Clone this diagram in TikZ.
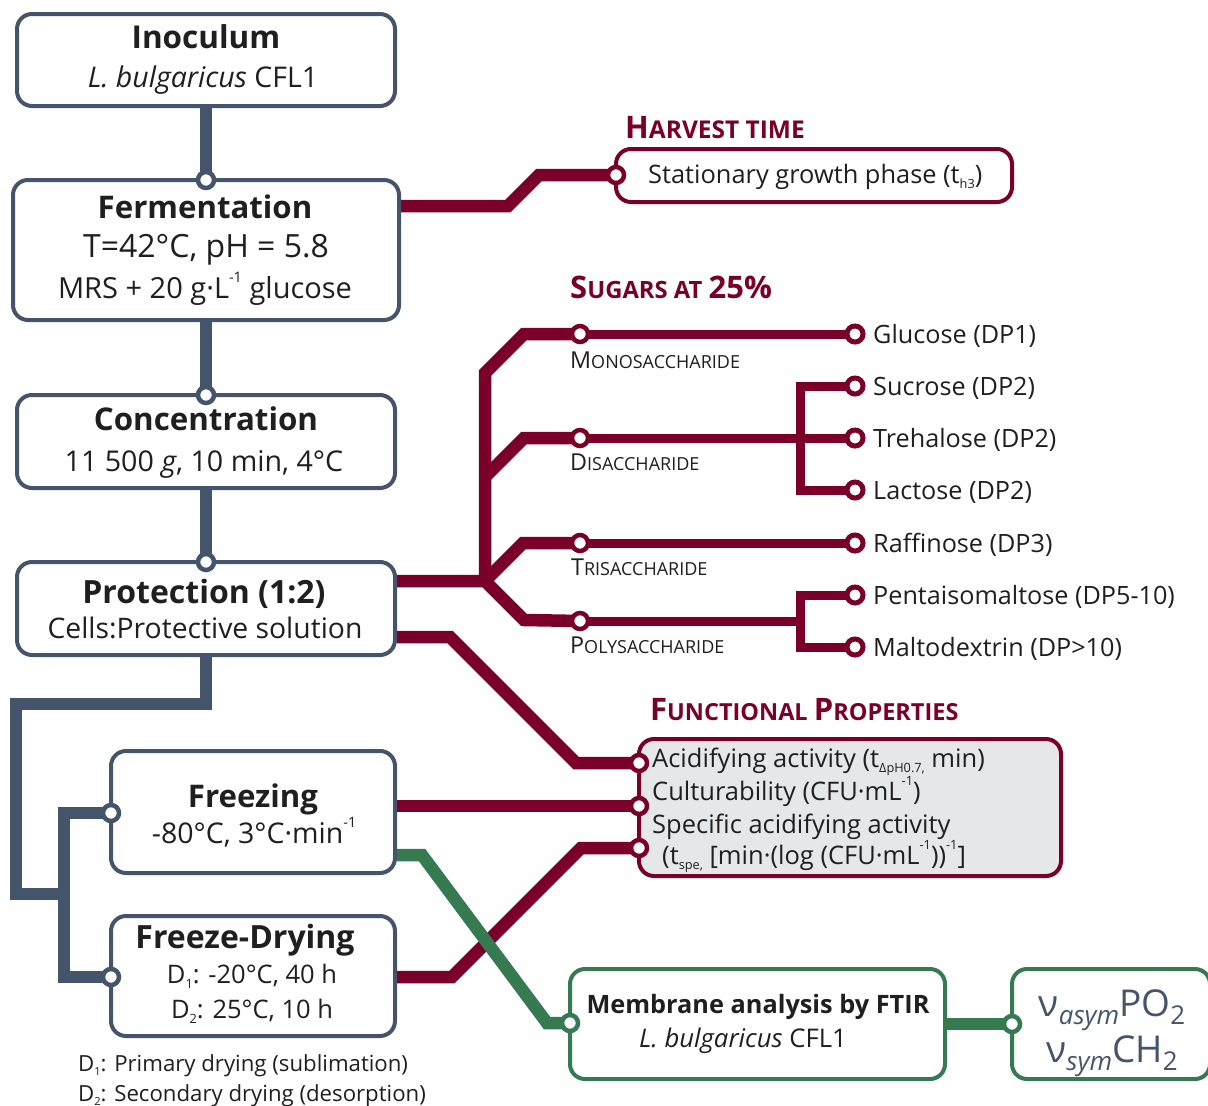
\documentclass[tikz,border=0pt]{standalone}
\usepackage{fontspec}
\setmainfont{Open Sans}
\usetikzlibrary{calc}
\pgfdeclarelayer{bg}
\pgfsetlayers{bg,main}
\definecolor{slate}{HTML}{44546A}
\definecolor{wine}{HTML}{7A0029}
\definecolor{fir}{HTML}{357A50}
\definecolor{panel}{HTML}{E6E7E9}
\definecolor{ink}{HTML}{1F1F1F}
% font size helper (sizes are given in pt = px)
\newcommand\fs[1]{\fontsize{#1}{#1}\selectfont}
\newcommand\shrink[2]{{\fontsize{#1}{#1}\selectfont #2}}
% tiny raised / lowered indices
\newcommand\up[1]{\raisebox{0.55em}{\scalebox{0.5}{#1}}}
\newcommand\dn[1]{\raisebox{-0.2em}{\scalebox{0.5}{#1}}}
\newcommand\vsub[1]{\raisebox{-0.22em}{\scalebox{0.7}{#1}}}
\begin{document}
\begin{tikzpicture}[x=1pt,y=-1pt,
  stage/.style={draw=slate, line width=4pt, rounded corners=15pt, fill=white, inner sep=0pt},
  winebox/.style={stage, draw=wine},
  panelbox/.style={stage, draw=wine, fill=panel},
  firbox/.style={stage, draw=fir},
  slateline/.style={draw=slate, line width=12.5pt},
  wineline/.style={draw=wine, line width=12.5pt},
  winethin/.style={draw=wine, line width=9pt},
  firline/.style={draw=fir, line width=12.5pt},
  hub/.style={circle, fill=white, draw=#1, line width=4.5pt, minimum size=16pt, inner sep=0pt},
  leaf/.style={circle, fill=white, draw=wine, line width=5pt, minimum size=16pt, inner sep=0pt},
  lbl/.style={inner sep=0pt, anchor=base, text=ink},
  lbll/.style={lbl, anchor=base west},
  head/.style={inner sep=0pt, anchor=base west, text=wine, font={\fs{31}\bfseries}},
  kind/.style={inner sep=0pt, anchor=base west, text=ink, font={\fs{23.3}}}
]
\useasboundingbox (0,0) rectangle (1208,1106);
\begin{pgfonlayer}{bg}
  \fill[white] (0,0) rectangle (1208,1106);
\end{pgfonlayer}
\clip (0,0) rectangle (1208,1106);

% ---------- process stages ----------
\node[stage, minimum width=378pt, minimum height=92pt] (inoc) at (206,60) {};
\node[stage, minimum width=386pt, minimum height=140pt] (ferm) at (206,250) {};
\node[stage, minimum width=378pt, minimum height=93pt] (conc) at (206,441.5) {};
\node[stage, minimum width=378pt, minimum height=93pt] (prot) at (206,608.5) {};
\node[stage, minimum width=284pt, minimum height=122pt] (frz) at (253,812) {};
\node[stage, minimum width=284pt, minimum height=120pt] (fd) at (253,976) {};

\node[lbl, font={\fs{31.5}\bfseries}] (inoc-a) at (206,48) {Inoculum};
\node[lbl, font={\fs{28.5}}] (inoc-b) at (203,87) {\textit{L. bulgaricus} CFL1};
\node[lbl, font={\fs{31.2}\bfseries}] (ferm-a) at (205,218) {Fermentation};
\node[lbl, font={\fs{32}}] (ferm-b) at (206,257) {T=42°C, pH = 5.8};
\node[lbl, font={\fs{29}}] (ferm-c) at (205,298) {MRS + 20 g·L\up{-1} glucose};
\node[lbl, font={\fs{31.3}\bfseries}] (conc-a) at (206,430) {Concentration};
\node[lbl, font={\fs{28.6}}] (conc-b) at (204,471) {11 500 \textit{g}, 10 min, 4°C};
\node[lbl, font={\fs{32}\bfseries}] (prot-a) at (204,603) {Protection (1:2)};
\node[lbl, font={\fs{28.3}}] (prot-b) at (205,638) {Cells:Protective solution};
\node[lbl, font={\fs{31.2}\bfseries}] (frz-a) at (253,807) {Freezing};
\node[lbl, font={\fs{28.5}}] (frz-b) at (254,843) {-80°C, 3°C·min\up{-1}};
\node[lbl, font={\fs{32}\bfseries}] (fd-a) at (245,948) {Freeze-Drying};
\node[lbl, font={\fs{25.5}}] (fd-b) at (252,983) {D\dn{1}: -20°C, 40 h};
\node[lbl, font={\fs{25.5}}] (fd-c) at (252,1018) {D\dn{2}: 25°C, 10 h};
\node[lbll, font={\fs{22.2}}] (note1) at (78,1071) {D\dn{1}: Primary drying (sublimation)};
\node[lbll, font={\fs{22.2}}] (note2) at (78,1101) {D\dn{2}: Secondary drying (desorption)};

% ---------- harvest time ----------
\node[head] (harv-h) at (625,138) {H\shrink{24.5}{ARVEST TIME}};
\node[winebox, minimum width=396pt, minimum height=53pt] (harv) at (814,175.5) {};
\node[lbll, font={\fs{25.4}}] (harv-t) at (648,183) {Stationary growth phase (t\dn{h3})};

% ---------- sugars ----------
\node[head] (sug-h) at (570,298) {S\shrink{23.8}{UGARS AT }25\%};
\node[kind] (k-mono) at (570,368) {M\shrink{18}{ONOSACCHARIDE}};
\node[kind] (k-di) at (570,470) {D\shrink{18}{ISACCHARIDE}};
\node[kind] (k-tri) at (571,575) {T\shrink{18}{RISACCHARIDE}};
\node[kind] (k-poly) at (570,653) {P\shrink{18}{OLYSACCHARIDE}};
\foreach \nm/\yy/\txt in {glu/334/Glucose (DP1), suc/386/Sucrose (DP2), tre/438/Trehalose (DP2),
  lac/490/Lactose (DP2), raf/543/Raffinose (DP3), pen/595/Pentaisomaltose (DP5-10),
  mal/647/Maltodextrin (DP>10)}
  \node[lbll, font={\fs{25.2}}] (t-\nm) at (873,\yy+9) {\txt};

% ---------- functional properties ----------
\node[head] (fun-h) at (650,720) {F\shrink{23.5}{UNCTIONAL }P\shrink{23.5}{ROPERTIES}};
\node[panelbox, minimum width=422pt, minimum height=137pt] (fun) at (850,807.5) {};
\node[lbll, font={\fs{25.5}}] (fun-a) at (652,767) {Acidifying activity (t\dn{ΔpH0.7,} min)};
\node[lbll, font={\fs{25.5}}] (fun-b) at (652,800) {Culturability (CFU·mL\up{-1})};
\node[lbll, font={\fs{25.5}}] (fun-c) at (652,833) {Specific acidifying activity};
\node[lbll, font={\fs{25.5}}] (fun-d) at (662,864) {(t\dn{spe,} [min·(log (CFU·mL\up{-1}))\up{-1}]};

% ---------- FTIR ----------
\node[firbox, minimum width=375pt, minimum height=110pt] (mem) at (757.5,1024) {};
\node[lbl, font={\fs{25.3}\bfseries}] (mem-a) at (758,1013) {Membrane analysis by FTIR};
\node[lbl, font={\fs{25.7}}] (mem-b) at (743,1047) {\textit{L. bulgaricus} CFL1};
\node[firbox, minimum width=198pt, minimum height=110pt] (vib) at (1111,1024) {};
\node[lbl, text=slate, font={\fs{37}}] (vib-a) at (1112,1016) {ν\vsub{\itshape asym}PO\vsub{2}};
\node[lbl, text=slate, font={\fs{37}}] (vib-b) at (1112,1062) {ν\vsub{\itshape sym}CH\vsub{2}};

% ---------- junction dots ----------
\node[hub=slate] (d-ferm) at (206,180) {};
\node[hub=slate] (d-conc) at (206,395) {};
\node[hub=slate] (d-prot) at (206,562) {};
\node[hub=slate] (d-frz) at (111,813) {};
\node[hub=slate] (d-fd) at (111,977) {};
\node[hub=wine] (d-harv) at (616,175) {};
\node[hub=wine] (d-mono) at (580,334) {};
\node[hub=wine] (d-di) at (580,438) {};
\node[hub=wine] (d-tri) at (580,543) {};
\node[hub=wine] (d-poly) at (580,621) {};
\foreach \nm/\yy in {glu/334, suc/386, tre/438, lac/490, raf/543, pen/595, mal/647}
  \node[leaf] (l-\nm) at (855,\yy) {};
\node[hub=wine] (d-fa) at (639,763) {};
\node[hub=wine] (d-fb) at (639,806) {};
\node[hub=wine] (d-fc) at (639,848) {};
\node[hub=fir] (d-mem) at (570,1023) {};
\node[hub=fir] (d-vib) at (1012,1024) {};

% ---------- bend points ----------
\coordinate (k1) at (206,704);
\coordinate (k2) at (16,704);
\coordinate (k3) at (16,894);
\coordinate (k4) at (64,894);
\coordinate (k5) at (64,813);
\coordinate (k6) at (64,977);
\coordinate (h1) at (508,206);
\coordinate (h2) at (539,175);
\coordinate (j0) at (485,581);
\coordinate (j1) at (485,373);
\coordinate (j2) at (524,334);
\coordinate (j3) at (485,477);
\coordinate (j4) at (524,438);
\coordinate (j5) at (523,543);
\coordinate (j6) at (524,620);
\coordinate (b1) at (800,386);
\coordinate (b2) at (800,490);
\coordinate (b3) at (800,621);
\coordinate (b4) at (800,595);
\coordinate (b5) at (800,647);
\coordinate (f0) at (450,637);
\coordinate (f1) at (576,763);
\coordinate (f2) at (452,977);
\coordinate (f3) at (581,848);
\coordinate (g0) at (422,855);
\coordinate (g1) at (547,1023);

% ---------- connectors ----------
\begin{pgfonlayer}{bg}
  \draw[slateline] (inoc.south) -- (d-ferm.center);
  \draw[slateline] (ferm.south) -- (d-conc.center);
  \draw[slateline] (conc.south) -- (d-prot.center);
  \draw[slateline] (prot.south) -- (k1) -- (k2) -- (k3) -- (k4);
  \draw[slateline] (d-frz.center) -- (k5) -- (k6) -- (d-fd.center);

  \draw[wineline] (ferm.east |- h1) -- (h1) -- (h2) -- (d-harv.center);

  \draw[wineline] (prot.east |- j0) -- (j0) -- (j6) -- (d-poly.center);
  \draw[wineline] (j0) -- (j1) -- (j2) -- (d-mono.center);
  \draw[wineline] (j3) -- (j4) -- (d-di.center);
  \draw[wineline] (j0) -- (j5) -- (d-tri.center);
  \draw[winethin] (d-mono.center) -- (l-glu.center);
  \draw[winethin] (d-di.center) -- (l-tre.center);
  \draw[winethin] (l-suc.center) -- (b1) -- (b2) -- (l-lac.center);
  \draw[winethin] (d-tri.center) -- (l-raf.center);
  \draw[winethin] (d-poly.center) -- (b3);
  \draw[winethin] (l-pen.center) -- (b4) -- (b5) -- (l-mal.center);

  \draw[wineline] (prot.east |- f0) -- (f0) -- (f1) -- (d-fa.center);
  \draw[wineline] (frz.east |- d-fb) -- (d-fb.center);
  \draw[wineline] (fd.east |- f2) -- (f2) -- (f3) -- (d-fc.center);

  \draw[firline] (frz.east |- g0) -- (g0) -- (g1) -- (d-mem.center);
  \draw[firline] (mem.east) -- (d-vib.center);
\end{pgfonlayer}
\end{tikzpicture}
\end{document}
